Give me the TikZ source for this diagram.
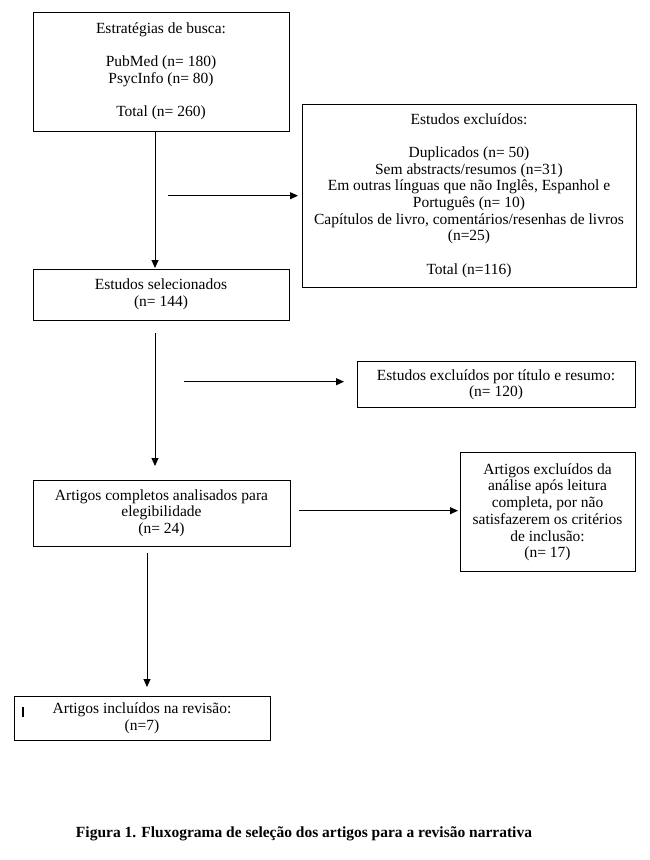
\documentclass[tikz,border=0pt]{standalone}
\usepackage{fontspec}
\setmainfont{Liberation Serif}
\usetikzlibrary{arrows.meta}
\begin{document}
\begin{tikzpicture}[x=1pt,y=-1pt,
  box/.style={draw,line width=1pt,inner sep=0pt,align=center,font=\fontsize{15.5}{16.7}\selectfont},
  arr/.style={line width=1pt,-{Triangle[length=8pt,width=7pt]}}]
\useasboundingbox (0,0) rectangle (650,860);
\fill[white] (0,0) rectangle (650,860);

\node[box,minimum width=256pt,minimum height=119pt] (b1) at (161,71.5)
  {Estratégias de busca:\\[16.7pt]PubMed (n= 180)\\PsycInfo (n= 80)\\[16.7pt]Total (n= 260)};
\node[box,minimum width=334pt,minimum height=183pt] (b2) at (469,195.5)
  {Estudos excluídos:\\[16.7pt]Duplicados (n= 50)\\Sem abstracts/resumos (n=31)\\Em outras línguas que não Inglês, Espanhol e\\Português (n= 10)\\Capítulos de livro, comentários/resenhas de livros\\(n=25)\\[16.7pt]Total (n=116)};
\node[box,minimum width=256pt,minimum height=51pt] (b3) at (161,294.5)
  {Estudos selecionados\\(n= 144)};
\node[box,minimum width=278pt,minimum height=46pt] (b5) at (496,384.7)
  {Estudos excluídos por título e resumo:\\(n= 120)};
\node[box,minimum width=257pt,minimum height=66pt] (b4) at (161.5,513)
  {Artigos completos analisados para\\elegibilidade\\(n= 24)};
\node[box,minimum width=175pt,minimum height=118.7pt] (b6) at (547.5,512.3)
  {Artigos excluídos da\\análise após leitura\\completa, por não\\satisfazerem os critérios\\de inclusão:\\(n= 17)};
\node[box,minimum width=256pt,minimum height=44pt] (b7) at (142,718)
  {Artigos incluídos na revisão:\\(n=7)};

\coordinate (a1e) at (155,268);
\coordinate (a2s) at (168,195.7);
\coordinate (a2e) at (298,195.7);
\coordinate (a3s) at (155,333);
\coordinate (a3e) at (155,466);
\coordinate (a4s) at (184,381.7);
\coordinate (a4e) at (344,381.7);
\coordinate (a5s) at (299,510.7);
\coordinate (a5e) at (458,510.7);
\coordinate (a6s) at (147,553);
\coordinate (a6e) at (147,687);

\draw[arr] (b1.south -| a1e) -- (a1e);
\draw[arr] (a2s) -- (a2e);
\draw[arr] (a3s) -- (a3e);
\draw[arr] (a4s) -- (a4e);
\draw[arr] (a5s) -- (a5e);
\draw[arr] (a6s) -- (a6e);

\draw[line width=2pt] (23,707) -- (23,717);

\node[font=\bfseries\fontsize{15.5}{16}\selectfont] (cap) at (304,834)
  {Figura 1. Fluxograma de seleção dos artigos para a revisão narrativa};
\end{tikzpicture}
\end{document}
